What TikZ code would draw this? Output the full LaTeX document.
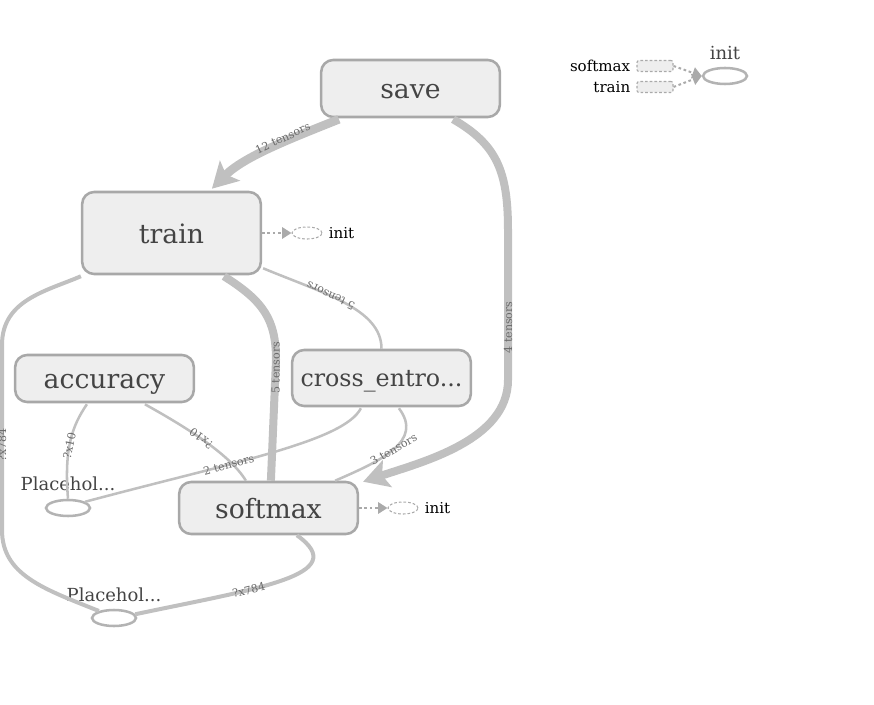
\documentclass[tikz,border=0pt]{standalone}
\usepackage{fontspec}
\setmainfont{DejaVu Serif}
\usetikzlibrary{shapes.geometric,arrows.meta,calc}

\definecolor{opfill}{HTML}{EEEEEE}
\definecolor{opline}{HTML}{A8A8A8}
\definecolor{optext}{HTML}{444444}
\definecolor{phline}{HTML}{B3B3B3}
\definecolor{edgegray}{HTML}{C0C0C0}
\definecolor{lblgray}{HTML}{6A6A6A}
\definecolor{dotgray}{HTML}{AAAAAA}

\tikzset{
  opnode/.style={draw=opline, fill=opfill, line width=1.9pt, rounded corners=9pt,
    text=optext, inner sep=0pt, minimum width=134pt, text height=15.2pt, text depth=0pt,
    font=\fontsize{20}{24}\selectfont},
  phnode/.style={ellipse, draw=phline, line width=1.9pt,
    minimum width=33pt, minimum height=12pt, inner sep=0pt},
  phlabel/.style={text=optext, inner sep=0pt, text height=10.3pt, text depth=0pt,
    font=\fontsize{13.5}{16}\selectfont},
  initnode/.style={ellipse, draw=dotgray, dash pattern=on 2pt off 1.5pt, line width=0.8pt,
    minimum width=22.5pt, minimum height=9pt, inner sep=0pt},
  initlabel/.style={anchor=west, inner sep=0pt, font=\fontsize{11.3}{13}\selectfont},
  legbox/.style={draw=dotgray, dash pattern=on 2pt off 1.5pt, fill=opfill, line width=0.8pt,
    rounded corners=1.5pt, minimum width=27pt, minimum height=8.25pt, inner sep=0pt},
  bigedge/.style={draw=edgegray, line width=6pt},
  midedge/.style={draw=edgegray, line width=3pt},
  thinedge/.style={draw=edgegray, line width=1.9pt},
  initedge/.style={draw=dotgray, line width=1.5pt, dash pattern=on 2pt off 2pt,
    -{Triangle[length=7pt,width=8.5pt]}},
  edgelabel/.style={text=lblgray, inner sep=0pt, outer sep=0pt,
    font=\fontsize{8.3}{9}\selectfont},
  bigtip/.style={-{Stealth[length=19pt,width=21pt,inset=4pt]}}
}

\begin{document}
\begin{tikzpicture}[x=0.75pt,y=-0.75pt]

\useasboundingbox (0,0) rectangle (874,705);

% Operations
\node[opnode, minimum height=42.75pt] (save) at (410.5,88.5) {save};
\node[opnode, minimum height=61.5pt] (train) at (171.5,233) {train};
\node[opnode, minimum height=35.25pt] (accuracy) at (104.5,378.5) {accuracy};
\node[opnode, minimum height=42pt, text height=13.5pt, font=\fontsize{17.8}{20}\selectfont]
  (crossentro) at (381.5,378) {cross\_entro...};
\node[opnode, minimum height=39pt] (softmax) at (268.5,508) {softmax};

% Placeholders
\node[phnode] (placeA) at (68,508) {};
\node[phlabel] (placeAlbl) at (68,484) {Placehol...};
\node[phnode] (placeB) at (114,618) {};
\node[phlabel] (placeBlbl) at (114,595) {Placehol...};

% Init
\node[initnode] (trainInit) at (307,233) {};
\node[initlabel] (trainInitlbl) at ($(trainInit.east)+(6,0)$) {init};
\node[initnode] (softmaxInit) at (403,508) {};
\node[initlabel] (softmaxInitlbl) at ($(softmaxInit.east)+(6,0)$) {init};

\draw[initedge] (train.east) -- (trainInit.west);
\draw[initedge] (softmax.east) -- (softmaxInit.west);

% Legende
\node[legbox] (legSoftmax) at (655,66) {};
\node[legbox] (legTrain) at (655,87) {};
\node[initlabel, anchor=east] (legSoftmaxlbl) at ($(legSoftmax.west)+(-6,0)$) {softmax};
\node[initlabel, anchor=east] (legTrainlbl) at ($(legTrain.west)+(-6,0)$) {train};
\node[phnode] (initOp) at (725,76) {};
\node[phlabel] (initOplbl) at (725,53) {init};

\draw[initedge] (legSoftmax.east) -- (initOp.west);
\draw[initedge] (legTrain.east) -- (initOp.west);

% Aretes epaisses
\draw[bigedge, line width=6.5pt, bigtip]
  ($(save.south west)+(19,1)$) .. controls +(-50,20) and +(32,-32) ..
  ($(train.north west)+(131,-2)$)
  node[edgelabel, pos=0.38, rotate=25, anchor=south] (l12) {12 tensors};

\draw[bigedge, bigtip]
  ($(save.south east)+(-48,1)$) .. controls +(43,25) and +(0,-60) .. (508,230)
  -- (508,380) node[edgelabel, pos=0.65, rotate=90] (l4) {4 tensors}
  .. controls +(0,60) and +(60,-20) .. ($(softmax.north east)+(4,1)$);

\draw[bigedge]
  ($(train.south west)+(143,1)$) .. controls +(40,25) and +(0,-40) .. (276,360)
  -- ($(softmax.north west)+(93,0)$)
  node[edgelabel, pos=0.065, rotate=90] (l5b) {5 tensors};

% Aretes fines
\draw[thinedge]
  (crossentro.north) .. controls +(0,-40) and +(60,25) ..
  ($(train.south east)+(1,-7)$)
  node[edgelabel, pos=0.6, rotate=155] (l5a) {5 tensors};

\draw[midedge]
  (placeB.155) .. controls +(-55,-22) and +(0,45) .. (2,530)
  -- (2,345) node[edgelabel, pos=0.46, rotate=90] (l784a) {?x784}
  .. controls +(0,-45) and +(-35,15) .. ($(train.south west)+(0,1)$);

\draw[midedge]
  (placeB.10) .. controls +(123,-26) and +(56,40) ..
  ($(softmax.south west)+(119,0)$)
  node[edgelabel, pos=0.35, rotate=14] (l784b) {?x784};

\draw[thinedge]
  (placeA.north) .. controls +(-4,-50) and +(-15,22) ..
  ($(accuracy.south west)+(73,1)$)
  node[edgelabel, pos=0.45, rotate=78] (l10a) {?x10};

\draw[thinedge]
  ($(softmax.north west)+(68,0)$) .. controls +(-15,-25) and +(45,25) ..
  ($(accuracy.south west)+(131,1)$)
  node[edgelabel, pos=0.55, rotate=143] (l10b) {?x10};

\draw[thinedge]
  (placeA.20) .. controls +(150,-40) and +(-17,33) ..
  ($(crossentro.south west)+(70,1)$)
  node[edgelabel, pos=0.36, rotate=15] (l2t) {2 tensors};

\draw[thinedge]
  ($(softmax.north east)+(-24,0)$) .. controls +(46,-20) and +(25,33) ..
  ($(crossentro.south west)+(108,1)$)
  node[edgelabel, pos=0.5, rotate=30] (l3t) {3 tensors};

\end{tikzpicture}
\end{document}
